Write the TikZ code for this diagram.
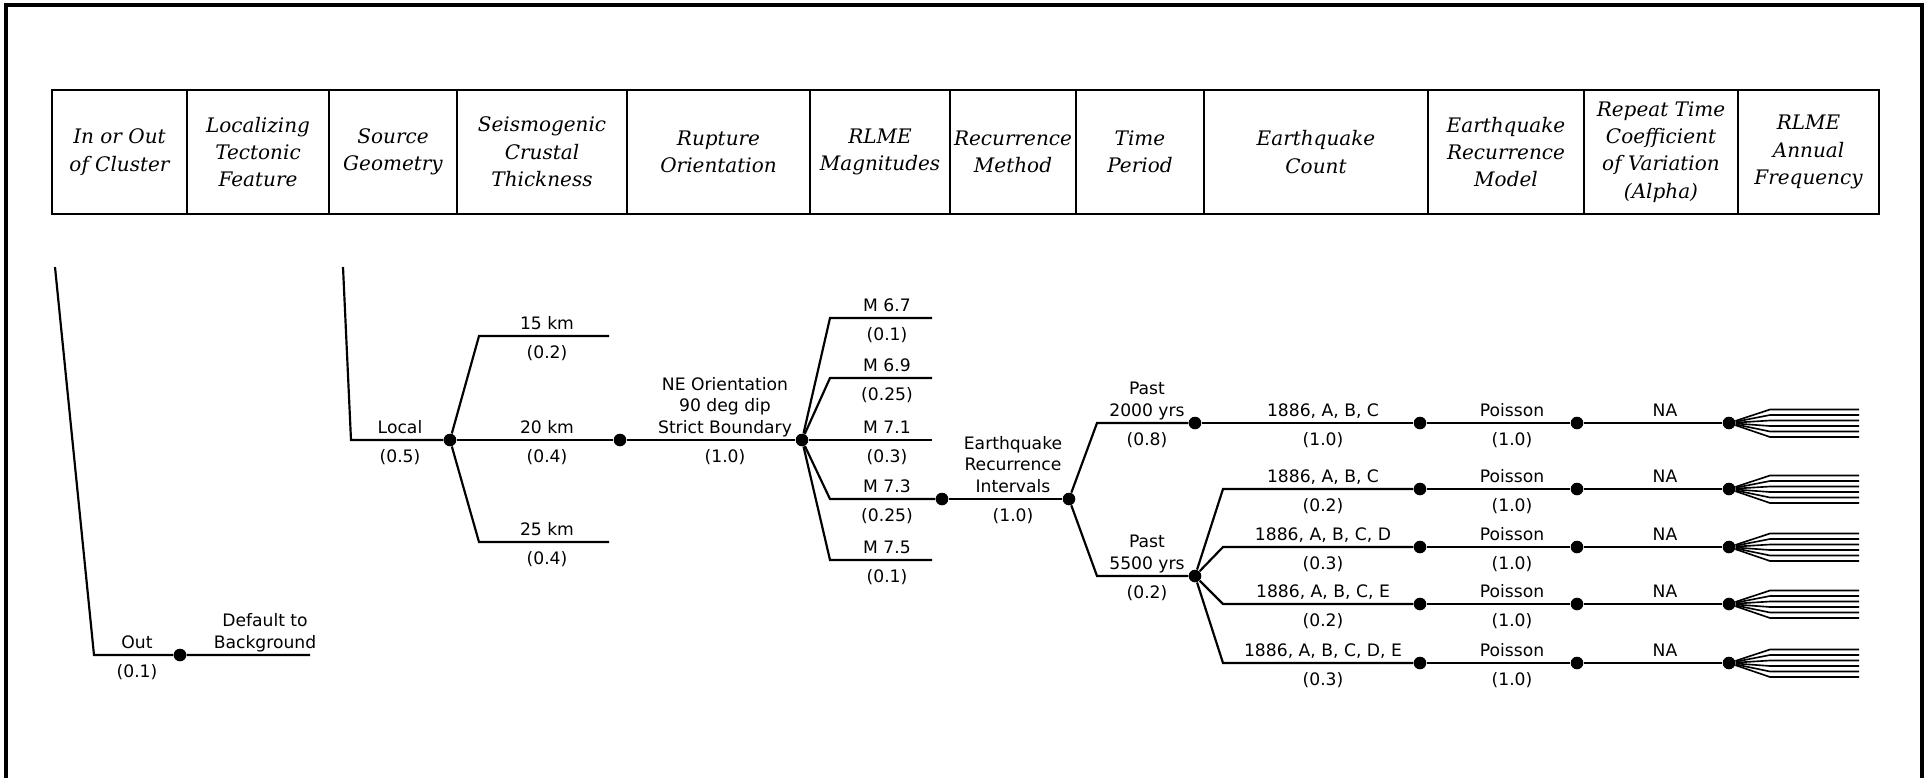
\documentclass[tikz,border=0pt]{standalone}
\usepackage{fontspec}
\usetikzlibrary{positioning}
\newfontfamily\hdrfont{DejaVu Serif}
\newfontfamily\treefont{DejaVu Sans}
\newcommand{\pxu}{0.46pt}

\begin{document}
\begin{tikzpicture}[
    x=\pxu, y=-\pxu,
    hdr/.style={draw, line width=1.1pt, outer sep=0pt, inner sep=0pt, minimum height=124*\pxu, align=center, font=\hdrfont\itshape\fontsize{9.2}{12.6}\selectfont},
    branch/.style={line width=1pt},
    fan/.style={line width=0.75pt},
    dot/.style={circle, fill, inner sep=0pt, minimum size=5.8pt},
    up/.style={above=2.6pt, inner sep=0pt, text depth=0pt, align=center, font=\treefont\fontsize{7.9}{10.1}\selectfont},
    dn/.style={below=4.5pt, inner sep=0pt, text height=5.8pt, font=\treefont\fontsize{7.9}{10.1}\selectfont},
    frame/.style={line width=1.8pt}
]
    \useasboundingbox (0,0) rectangle (1929,778);
    \draw[frame] (6,778) |- (1922,5) -- (1922,778);

    % header row
    \node[hdr, minimum width=135*\pxu, anchor=north west] (hcluster) at (52,90) {In or Out\\of Cluster};
    \node[hdr, minimum width=142*\pxu, right=0pt of hcluster] (hfeature) {Localizing\\Tectonic\\Feature};
    \node[hdr, minimum width=128*\pxu, right=0pt of hfeature] (hgeom) {Source\\Geometry};
    \node[hdr, minimum width=170*\pxu, right=0pt of hgeom] (hcrust) {Seismogenic\\Crustal\\Thickness};
    \node[hdr, minimum width=183*\pxu, right=0pt of hcrust] (horient) {Rupture\\Orientation};
    \node[hdr, minimum width=140*\pxu, right=0pt of horient] (hmag) {RLME\\Magnitudes};
    \node[hdr, minimum width=126*\pxu, right=0pt of hmag] (hmethod) {Recurrence\\Method};
    \node[hdr, minimum width=128*\pxu, right=0pt of hmethod] (hperiod) {Time\\Period};
    \node[hdr, minimum width=224*\pxu, right=0pt of hperiod] (hcount) {Earthquake\\Count};
    \node[hdr, minimum width=156*\pxu, right=0pt of hcount] (hmodel) {Earthquake\\Recurrence\\Model};
    \node[hdr, minimum width=154*\pxu, right=0pt of hmodel] (halpha) {Repeat Time\\Coefficient\\of Variation\\(Alpha)};
    \node[hdr, minimum width=141*\pxu, right=0pt of halpha] (hfreq) {RLME\\Annual\\Frequency};

    % in or out of cluster
    \coordinate (topout) at (55,267);
    \coordinate (eout) at (94,655);
    \node[dot] (dout) at (180,655) {};
    \coordinate (endout) at (310,655);
    \draw[branch] (topout) -- (eout) -- (dout) -- (endout);
    \node[up] (lout) at (137,655) {Out};
    \node[dn] (pout) at (137,655) {(0.1)};
    \node[up] (ldefault) at (265,655) {Default to\\Background};

    % source geometry
    \coordinate (toplocal) at (343,267);
    \coordinate (elocal) at (351,440);
    \node[dot] (dlocal) at (450,440) {};
    \draw[branch] (toplocal) -- (elocal) -- (dlocal);
    \node[up] (llocal) at (400,440) {Local};
    \node[dn] (plocal) at (400,440) {(0.5)};

    % crustal thickness
    \node[dot] (dthick) at (620,440) {};
    \coordinate (e15) at (479,336);
    \coordinate (t15) at (609,336);
    \coordinate (e25) at (479,542);
    \coordinate (t25) at (609,542);
    \draw[branch] (dlocal) -- (e15) -- (t15);
    \draw[branch] (dlocal) -- (dthick);
    \draw[branch] (dlocal) -- (e25) -- (t25);
    \node[up] (l15) at (547,336) {15 km};
    \node[dn] (p15) at (547,336) {(0.2)};
    \node[up] (l20) at (547,440) {20 km};
    \node[dn] (p20) at (547,440) {(0.4)};
    \node[up] (l25) at (547,542) {25 km};
    \node[dn] (p25) at (547,542) {(0.4)};

    % rupture orientation
    \node[dot] (dorient) at (802,440) {};
    \draw[branch] (dthick) -- (dorient);
    \node[up] (lorient) at (725,440) {NE Orientation\\90 deg dip\\Strict Boundary};
    \node[dn] (porient) at (725,440) {(1.0)};

    % magnitudes
    \foreach \y/\m/\w [count=\i] in {318/6.7/0.1, 378/6.9/0.25, 440/7.1/0.3, 560/7.5/0.1} {
        \coordinate (em\i) at (830,\y);
        \coordinate (tm\i) at (932,\y);
        \draw[branch] (dorient) -- (em\i) -- (tm\i);
        \node[up] (lm\i) at (887,\y) {M \m};
        \node[dn] (pm\i) at (887,\y) {(\w)};
    }
    \node[dot] (dmag) at (942,499) {};
    \coordinate (em73) at (830,499);
    \draw[branch] (dorient) -- (em73) -- (dmag);
    \node[up] (lm73) at (887,499) {M 7.3};
    \node[dn] (pm73) at (887,499) {(0.25)};

    % recurrence method
    \node[dot] (dmethod) at (1069,499) {};
    \draw[branch] (dmag) -- (dmethod);
    \node[up] (lmethod) at (1013,499) {Earthquake\\Recurrence\\Intervals};
    \node[dn] (pmethod) at (1013,499) {(1.0)};

    % time period
    \coordinate (e2000) at (1097,423);
    \coordinate (e5500) at (1097,576);
    \node[dot] (dp2000) at (1195,423) {};
    \node[dot] (dp5500) at (1195,576) {};
    \draw[branch] (dmethod) -- (e2000) -- (dp2000);
    \draw[branch] (dmethod) -- (e5500) -- (dp5500);
    \node[up] (l2000) at (1147,423) {Past\\2000 yrs};
    \node[dn] (p2000) at (1147,423) {(0.8)};
    \node[up] (l5500) at (1147,576) {Past\\5500 yrs};
    \node[dn] (p5500) at (1147,576) {(0.2)};

    % earthquake count, model, alpha, frequency fan
    \foreach \y/\cnt/\w [count=\i] in {423/{1886, A, B, C}/1.0, 489/{1886, A, B, C}/0.2, 547/{1886, A, B, C, D}/0.3, 604/{1886, A, B, C, E}/0.2, 663/{1886, A, B, C, D, E}/0.3} {
        \coordinate (ec\i) at (1223,\y);
        \node[dot] (cnt\i) at (1420,\y) {};
        \node[dot] (mod\i) at (1577,\y) {};
        \node[dot] (na\i) at (1729,\y) {};
        \draw[branch] (cnt\i) -- (mod\i) -- (na\i);
        \node[up] (lcnt\i) at (1323,\y) {\cnt};
        \node[dn] (pcnt\i) at (1323,\y) {(\w)};
        \node[up] (lmod\i) at (1512,\y) {Poisson};
        \node[dn] (pmod\i) at (1512,\y) {(1.0)};
        \node[up] (lna\i) at (1665,\y) {NA};
        \foreach \dy in {-13.5,-8,-2.5,3,8.5,14}
            \draw[fan] (na\i) -- ++(41,\dy) -- ++(89,0);
    }
    \draw[branch] (dp2000) -- (cnt1);
    \foreach \i in {2,...,5}
        \draw[branch] (dp5500) -- (ec\i) -- (cnt\i);
\end{tikzpicture}
\end{document}
